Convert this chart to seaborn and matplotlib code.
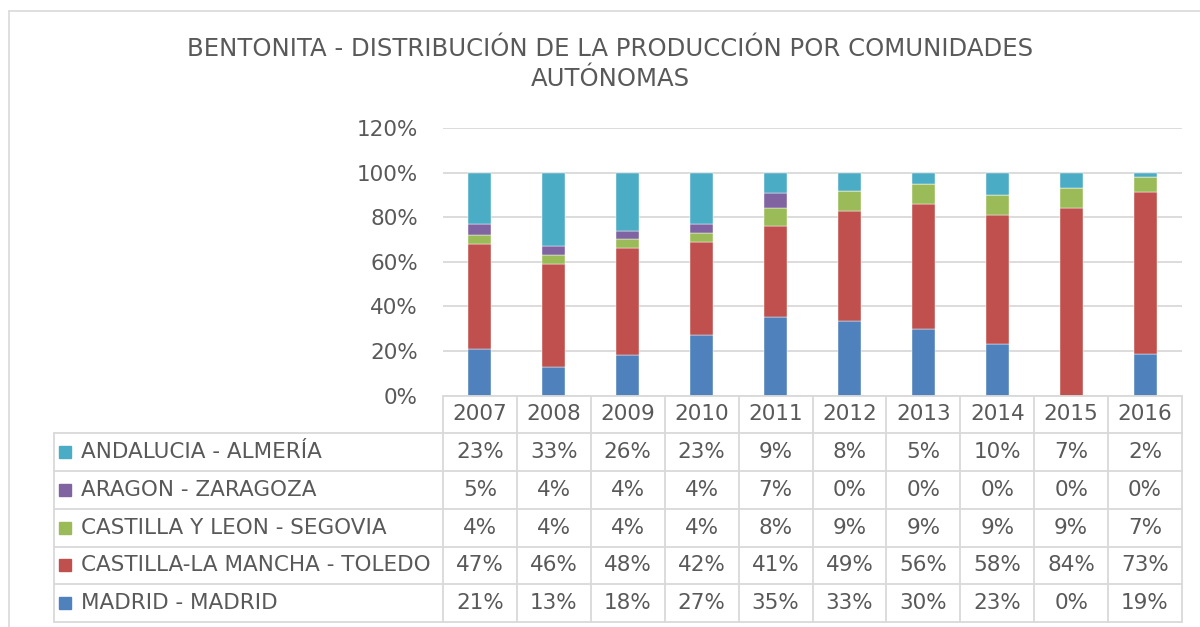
import numpy as np
import pandas as pd
import matplotlib
matplotlib.use("Agg")
import matplotlib.pyplot as plt
import matplotlib.ticker as mtick
import seaborn as sns

years = ["2007", "2008", "2009", "2010", "2011", "2012", "2013", "2014", "2015", "2016"]
andalucia = [23, 33, 26, 23, 9, 8, 5, 10, 7, 2]
aragon = [5, 4, 4, 4, 7, 0, 0, 0, 0, 0]
castilla_leon = [4, 4, 4, 4, 8, 9, 9, 9, 9, 7]
castilla_mancha = [47, 46, 48, 42, 41, 49, 56, 58, 84, 73]
madrid = [21, 13, 18, 27, 35, 33, 30, 23, 0, 19]

# orden de la tabla (arriba -> abajo)
series_names = ["ANDALUCIA - ALMERÍA", "ARAGON - ZARAGOZA", "CASTILLA Y LEON - SEGOVIA",
                "CASTILLA-LA MANCHA - TOLEDO", "MADRID - MADRID"]
series_vals = [andalucia, aragon, castilla_leon, castilla_mancha, madrid]
series_colors = ["#4BACC6", "#8064A2", "#9BBB59", "#C0504D", "#4F81BD"]

title = "BENTONITA - DISTRIBUCIÓN DE LA PRODUCCIÓN POR COMUNIDADES\nAUTÓNOMAS"

TXT = "#595959"
GRID = "#D9D9D9"
FS = 15.5

sns.set_style("white")
plt.rcParams["font.family"] = ["DejaVu Sans"]

W, H = 1200, 627
fig = plt.figure(figsize=(W / 100, H / 100), dpi=100)

# marco exterior del gráfico
fig.add_artist(plt.Line2D([8.5 / W, 1.0], [1 - 11 / H, 1 - 11 / H], color=GRID, lw=1.2))
fig.add_artist(plt.Line2D([8.5 / W, 8.5 / W], [0, 1 - 11 / H], color=GRID, lw=1.2))

# -------------------------
# Barras apiladas (100%)
# -------------------------
x0, x1 = 443, 1182
y_top, y_zero = 128, 395.5
ax = fig.add_axes([x0 / W, 1 - y_zero / H, (x1 - x0) / W, (y_zero - y_top) / H])

df = pd.DataFrame({name: vals for name, vals in zip(series_names, series_vals)}, index=years)
shares = df.div(df.sum(axis=1), axis=0)

bottom = np.zeros(len(years))
for name, color in zip(series_names[::-1], series_colors[::-1]):
    sns.barplot(x=years, y=shares[name].values, bottom=bottom, color=color,
                saturation=1, width=0.31, errorbar=None, ax=ax,
                edgecolor="white", linewidth=0.3)
    bottom = bottom + shares[name].values

ax.set_xlim(-0.5, len(years) - 0.5)
ax.set_ylim(0, 1.2)
ax.set_yticks(np.arange(0, 1.21, 0.2))
ax.yaxis.set_major_formatter(mtick.PercentFormatter(1.0, decimals=0))
ax.tick_params(axis="y", length=0, pad=18, labelsize=FS, labelcolor=TXT)
ax.set_xticks([])
ax.set_xlabel("")
ax.set_ylabel("")
ax.grid(True, axis="y", color=GRID, lw=1.3)
ax.set_axisbelow(True)
for s in ax.spines.values():
    s.set_visible(False)
ax.patch.set_alpha(0)

# -------------------------
# Tabla de datos
# -------------------------
col_w = (x1 - x0) / len(years)
tl, tb = 54, 622
left_units = (x0 - tl) / col_w
tax = fig.add_axes([tl / W, 1 - tb / H, (x1 - tl) / W, (tb - y_zero) / H])
tax.set_xlim(-0.5 - left_units, len(years) - 0.5)
tax.set_ylim(len(series_names) + 0.5, -0.5)
tax.axis("off")

n = len(years)
xl = -0.5 - left_units
line_kw = dict(color=GRID, lw=1.3, clip_on=False)
tax.plot([-0.5, n - 0.5], [-0.5, -0.5], **line_kw)
for r in range(len(series_names) + 1):
    tax.plot([xl, n - 0.5], [r + 0.5, r + 0.5], **line_kw)
tax.plot([xl, xl], [0.5, len(series_names) + 0.5], **line_kw)
for c in range(n + 1):
    tax.plot([c - 0.5, c - 0.5], [-0.5, len(series_names) + 0.5], **line_kw)

for c, yr in enumerate(years):
    tax.text(c, 0, yr, ha="center", va="center", fontsize=FS, color=TXT)

for r, (name, vals, color) in enumerate(zip(series_names, series_vals, series_colors), start=1):
    tax.plot([xl + 0.15], [r], marker="s", markersize=8.5, color=color, clip_on=False)
    tax.text(xl + 0.36, r, name, ha="left", va="center", fontsize=FS, color=TXT)
    for c, v in enumerate(vals):
        tax.text(c, r, f"{v}%", ha="center", va="center", fontsize=FS, color=TXT)

fig.text(610 / W, 1 - 64 / H, title, ha="center", va="center", fontsize=17.6,
         color=TXT, linespacing=1.3)

fig.savefig("out.png", dpi=100)
